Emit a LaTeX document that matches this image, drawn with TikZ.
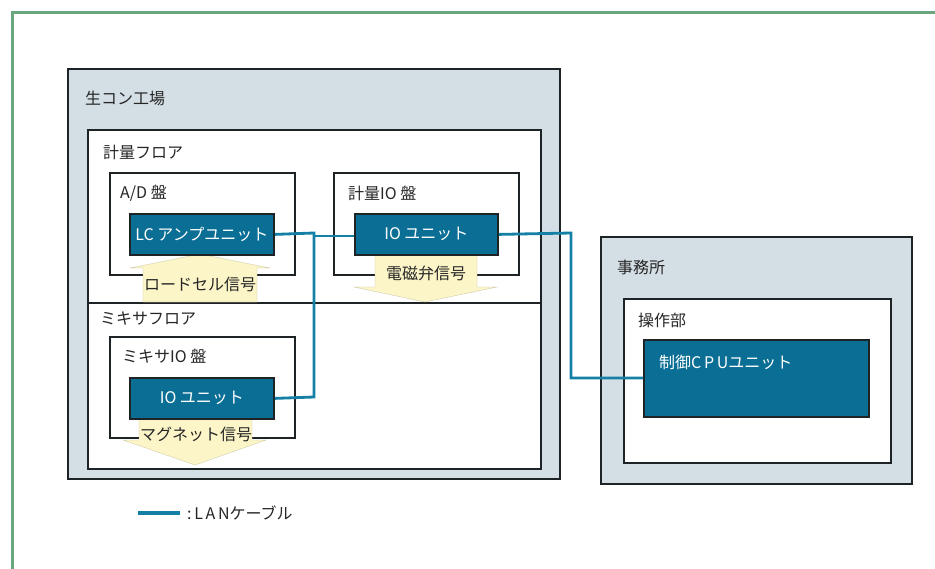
\documentclass[tikz,border=0pt]{standalone}
\usepackage{fontspec}
\setmainfont{Noto Sans CJK JP}
\newfontfamily\jp{Noto Sans CJK JP}
\definecolor{frameg}{HTML}{6AA77E}
\definecolor{areabg}{HTML}{D4DEE5}
\definecolor{unitbg}{HTML}{0B6E94}
\definecolor{cable}{HTML}{1580A6}
\definecolor{sigbg}{HTML}{FBF5C8}
\definecolor{edge}{HTML}{1E2326}
\tikzset{
  area/.style={draw=edge, line width=2pt, fill=areabg, anchor=north west, inner sep=0pt},
  panel/.style={draw=edge, line width=1.8pt, fill=white, anchor=north west, inner sep=0pt},
  unitbox/.style={draw=edge, line width=1.8pt, fill=unitbg, anchor=north west, inner sep=0pt},
  lbl/.style={anchor=west, inner sep=0pt, font=\jp\fontsize{16}{18}\selectfont, text=black!85},
  ulbl/.style={inner sep=0pt, font=\jp\fontsize{16}{18}\selectfont, text=white},
  siglbl/.style={inner sep=0pt, font=\jp\fontsize{16}{18}\selectfont, text=black!85},
  sig/.style={fill=sigbg, draw=sigbg!80!black, line width=0.3pt},
  lan/.style={draw=cable, line width=2.8pt},
}
\begin{document}
\begin{tikzpicture}[x=1pt,y=-1pt]
\useasboundingbox (0,0) rectangle (935,568);
\fill[white] (0,0) rectangle (935,568);
% outer green frame
\draw[frameg, line width=2.2pt] (12.5,570) -- (12.5,12.5) -- (937,12.5);

% factory
\node[area, minimum width=492, minimum height=410] (factory) at (67,68) {};
\node[lbl] (factoryL) at (85,98) {生コン工場};
\node[panel, minimum width=453, minimum height=173] (weigh) at (87,129) {};
\node[lbl] (weighL) at (103,152) {計量フロア};
\node[panel, minimum width=453, minimum height=166] (mixer) at (87,302) {};
\node[lbl] (mixerL) at (100,319) {ミキサフロア};

% A/D panel
\node[panel, minimum width=185, minimum height=102] (adp) at (109,172) {};
\node[lbl] (adpL) at (120,193) {A/D 盤};
% weigh IO panel
\node[panel, minimum width=185, minimum height=102] (wiop) at (333,172) {};
\node[lbl] (wiopL) at (348,193) {計量IO 盤};
% mixer IO panel
\node[panel, minimum width=185, minimum height=101] (miop) at (109,336) {};
\node[lbl] (miopL) at (122,356) {ミキサIO 盤};

% signal arrows
\fill[sig] (143,302) -- (143,268) -- (130,268) -- (200,254) -- (270,268) -- (257,268) -- (257,302) -- cycle;
\node[siglbl] (loadL) at (200,284) {ロードセル信号};
\fill[sig] (375,254) -- (375,287) -- (354,287) -- (425,302) -- (497,287) -- (477,287) -- (477,254) -- cycle;
\node[siglbl] (valveL) at (426,273) {電磁弁信号};
\fill[sig] (139,418) -- (139,440) -- (123,440) -- (195,465) -- (266,440) -- (252,440) -- (252,418) -- cycle;
\node[siglbl] (magL) at (196,434) {マグネット信号};

% units
\node[unitbox, minimum width=144, minimum height=41] (lcu) at (129,213) {};
\node[ulbl] at (lcu.center) {LC アンプユニット};
\node[unitbox, minimum width=143, minimum height=41] (wiou) at (354,213) {};
\node[ulbl] at (wiou.center) {IO ユニット};
\node[unitbox, minimum width=144, minimum height=41] (miou) at (129,377) {};
\node[ulbl] at (miou.center) {IO ユニット};

% office
\node[area, minimum width=311, minimum height=247] (office) at (600,236) {};
\node[lbl] (officeL) at (617,267) {事務所};
\node[panel, minimum width=267, minimum height=164] (ops) at (623,298) {};
\node[lbl] (opsL) at (638,320) {操作部};
\node[unitbox, minimum width=225, minimum height=77] (cpu) at (643,339) {};
\node[ulbl, anchor=west] (cpuL) at (659,362) {制御C\,P\,Uユニット};

% LAN cables
\coordinate (j1) at (314,233);
\coordinate (j2) at (314,397);
\coordinate (j3) at (571,233);
\coordinate (j4) at (571,378);
\draw[lan] (lcu.east) -- (j1) -- (j2) -- (miou.east);
\draw[lan] (314,236) -- (wiou.west |- 0,236);
\draw[lan] (wiou.east) -- (j3) -- (j4) -- (cpu.west |- j4);

% legend
\coordinate (lg1) at (138,513);
\coordinate (lg2) at (180,513);
\draw[lan, line width=3.2pt] (lg1) -- (lg2);
\node[lbl] (lgL) at (187,513) {:\,L\,A\,Nケーブル};
\end{tikzpicture}
\end{document}
